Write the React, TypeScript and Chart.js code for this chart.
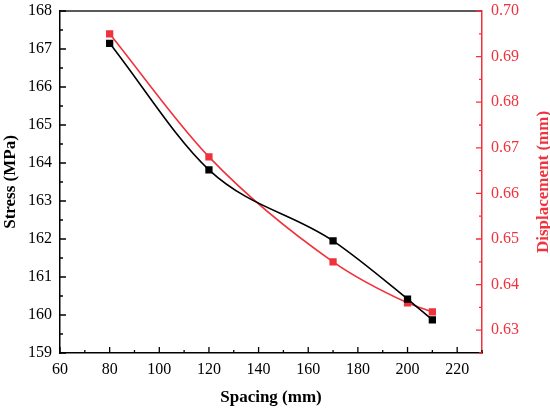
import React, { useEffect, useRef } from "react";
import { Chart, registerables } from "chart.js";

Chart.register(...registerables);

const spacing = [80, 120, 170, 200, 210];
const stress = [167.15, 163.82, 161.95, 160.42, 159.87];
const displacement = [0.695, 0.668, 0.645, 0.636, 0.634];

const xTicks = [60, 80, 100, 120, 140, 160, 180, 200, 220];
const y1Ticks = [0.63, 0.64, 0.65, 0.66, 0.67, 0.68, 0.69, 0.7];
const RED = "#f0323c";
const FONT = "'Liberation Serif', 'Times New Roman', serif";

const tickPlugin = {
  id: "inwardTicks",
  afterDraw(chart: any) {
    const { ctx, chartArea } = chart;
    const x = chart.scales.x;
    const y = chart.scales.y;
    const y1 = chart.scales.y1;
    ctx.save();
    ctx.lineWidth = 1.3;
    // top border
    ctx.strokeStyle = "#222";
    ctx.beginPath();
    ctx.moveTo(chartArea.left, chartArea.top);
    ctx.lineTo(chartArea.right, chartArea.top);
    ctx.stroke();
    // bottom ticks
    ctx.strokeStyle = "#000";
    ctx.beginPath();
    for (let v = 60; v <= 230; v += 10) {
      const px = x.getPixelForValue(v);
      const len = v % 20 === 0 ? 6 : 3;
      ctx.moveTo(px, chartArea.bottom);
      ctx.lineTo(px, chartArea.bottom - len);
    }
    // left ticks
    for (let i = 0; i <= 18; i++) {
      const v = 159 + i * 0.5;
      const py = y.getPixelForValue(v);
      const len = i % 2 === 0 ? 6 : 3;
      ctx.moveTo(chartArea.left, py);
      ctx.lineTo(chartArea.left + len, py);
    }
    ctx.stroke();
    // right ticks
    ctx.strokeStyle = RED;
    ctx.beginPath();
    for (let i = 0; i <= 15; i++) {
      const v = 0.625 + i * 0.005;
      const py = y1.getPixelForValue(v);
      const len = i % 2 === 1 ? 6 : 3;
      ctx.moveTo(chartArea.right, py);
      ctx.lineTo(chartArea.right - len, py);
    }
    ctx.stroke();
    // right axis title, reading bottom to top
    ctx.fillStyle = RED;
    ctx.font = `bold 17px ${FONT}`;
    ctx.textAlign = "center";
    ctx.textBaseline = "middle";
    ctx.translate(544, (chartArea.top + chartArea.bottom) / 2);
    ctx.rotate(-Math.PI / 2);
    ctx.fillText("Displacement (mm)", 0, 0);
    ctx.restore();
  },
};

export default function App() {
  const ref = useRef<HTMLCanvasElement>(null);
  useEffect(() => {
    if (!ref.current) return;
    const chart = new Chart(ref.current, {
      type: "line",
      data: {
        labels: spacing,
        datasets: [
          {
            label: "Stress",
            data: spacing.map((s, i) => ({ x: s, y: stress[i] })),
            borderColor: "#000",
            backgroundColor: "#000",
            borderWidth: 1.6,
            pointStyle: "rect",
            pointRadius: 4,
            pointHoverRadius: 4,
            cubicInterpolationMode: "monotone",
            yAxisID: "y",
          },
          {
            label: "Displacement",
            data: spacing.map((s, i) => ({ x: s, y: displacement[i] })),
            borderColor: RED,
            backgroundColor: RED,
            borderWidth: 1.6,
            pointStyle: "rect",
            pointRadius: 4,
            pointHoverRadius: 4,
            cubicInterpolationMode: "monotone",
            yAxisID: "y1",
          },
        ],
      },
      options: {
        animation: false,
        responsive: false,
        maintainAspectRatio: false,
        layout: { padding: { top: 11, left: 0, right: 0, bottom: 0 } },
        plugins: { legend: { display: false }, tooltip: { enabled: false } },
        scales: {
          x: {
            type: "linear",
            min: 60,
            max: 230,
            afterBuildTicks: (s: any) => {
              s.ticks = xTicks.map((v) => ({ value: v }));
            },
            afterFit: (s: any) => {
              s.height = 55;
              s.paddingLeft = 0;
              s.paddingRight = 0;
            },
            grid: { display: false, drawTicks: false, tickLength: 0 },
            border: { display: true, color: "#000", width: 1.5 },
            ticks: {
              color: "#000",
              padding: 7,
              font: { family: FONT, size: 16 },
            },
            title: {
              display: true,
              text: "Spacing (mm)",
              color: "#000",
              padding: { top: 2, bottom: 0 },
              font: { family: FONT, size: 17, weight: "bold" },
            },
          },
          y: {
            type: "linear",
            position: "left",
            min: 159,
            max: 168,
            afterFit: (s: any) => {
              s.width = 60;
              s.paddingTop = 0;
              s.paddingBottom = 0;
            },
            grid: { display: false, drawTicks: false, tickLength: 0 },
            border: { display: true, color: "#000", width: 1.5 },
            ticks: {
              stepSize: 1,
              color: "#000",
              padding: 8,
              font: { family: FONT, size: 16 },
            },
            title: {
              display: true,
              text: "Stress (MPa)",
              color: "#000",
              padding: { top: 0, bottom: 2 },
              font: { family: FONT, size: 17, weight: "bold" },
            },
          },
          y1: {
            type: "linear",
            position: "right",
            min: 0.625,
            max: 0.7,
            afterBuildTicks: (s: any) => {
              s.ticks = y1Ticks.map((v) => ({ value: v }));
            },
            afterFit: (s: any) => {
              s.width = 68;
              s.paddingTop = 0;
              s.paddingBottom = 0;
            },
            grid: { display: false, drawTicks: false, tickLength: 0 },
            border: { display: true, color: RED, width: 1.5 },
            ticks: {
              color: RED,
              padding: 9,
              font: { family: FONT, size: 16 },
              callback: (v: any) => Number(v).toFixed(2),
            },
            title: { display: false },
          },
        },
      },
      plugins: [tickPlugin],
    } as any);
    return () => chart.destroy();
  }, []);
  return (
    <div style={{ position: "fixed", left: 0, top: 0, width: 550, height: 408, background: "#fff" }}>
      <canvas ref={ref} width={550} height={408} style={{ width: 550, height: 408 }} />
    </div>
  );
}
